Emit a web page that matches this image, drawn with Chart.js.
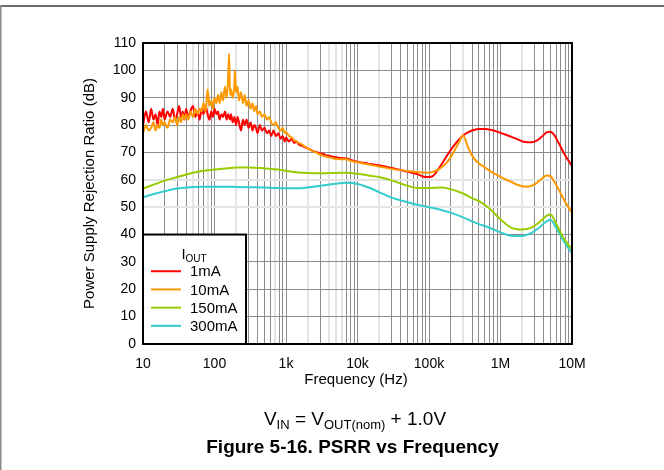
<!DOCTYPE html>
<html>
<head>
<meta charset="utf-8">
<script src="https://cdn.jsdelivr.net/npm/chart.js@4.4.1/dist/chart.umd.min.js"></script>
<style>
    html, body { margin: 0; padding: 0; background: #fff; }
    canvas { display: block; }
</style>
</head>
<body>
<canvas id="chart" width="664" height="470"></canvas>
<script>
// noisy low-frequency part of the 1mA and 10mA traces (Hz)
const lowFreq = [
    10, 11, 12, 13, 14, 15, 16, 17, 18, 19,
    20, 22, 24, 26, 28, 30, 32, 34, 36, 38,
    40, 43, 46, 50, 54, 58, 62, 66, 70, 75,
    80, 85, 90, 95, 100, 106, 112, 118, 125, 132,
    140, 148, 155, 160, 165, 170, 180, 190, 193, 200,
    210, 220, 235, 250, 265, 280, 300, 320, 340, 360,
    380, 400, 430, 460, 500, 540, 580, 620, 670, 720,
    780, 840, 900, 960, 1000, 1100, 1200, 1300, 1400, 1500,
    1650, 1800, 2000, 2200, 2400, 2600, 2800, 3000, 3300, 3600,
    4000, 4400, 4800, 5300, 6000
];
const psrr1mALow = [
    80, 85, 81, 86, 82, 84, 80, 85, 83, 86,
    82, 85, 83, 86, 82, 84, 87, 83, 85, 82,
    86, 83, 85, 87, 83, 85, 82, 86, 84, 87,
    84, 82, 85, 83, 86, 84, 85, 82, 84, 83,
    85, 82, 84, 83, 82, 84, 81, 83, 82, 80,
    83, 81, 78, 82, 80, 82, 79, 81, 78, 80,
    79, 77, 80, 78, 79, 77, 78, 76, 78, 76,
    77, 75, 76, 74, 75.5, 74, 75, 73.5, 74, 73,
    72.5, 72, 71.5, 71, 70.5, 70.2, 70, 69.6, 69.5, 69,
    68.8, 68.5, 68.3, 68.1, 67.9
];
const psrr10mALow = [
    77, 80, 78, 79, 81, 78, 80, 79, 82, 80,
    81, 79, 82, 81, 83, 80, 83, 81, 84, 82,
    84, 82, 85, 83, 86, 84, 86, 85, 88, 85,
    93, 87, 89, 86, 90, 88, 91, 88, 92, 89,
    94, 90, 97, 106, 91, 93, 90, 95, 100, 92,
    94, 89, 92, 88, 91, 87, 89, 86, 88, 85,
    87, 84, 85, 83, 84, 82, 83, 81, 80, 81,
    79, 78, 79, 77, 77.5, 76, 75.5, 74.5, 74, 73.5,
    73, 72.3, 71.5, 71, 70.4, 70, 69.6, 69.2, 68.8, 68.5,
    68.2, 68, 67.7, 67.6, 67.5
];

// smooth high-frequency part of the 1mA and 10mA traces (Hz)
const highFreq = [
    7e3, 8e3, 1e4, 1.2e4, 1.5e4, 2e4, 3e4, 5e4, 7e4, 9e4,
    1.1e5, 1.4e5, 1.8e5, 2.2e5, 2.6e5, 3e5, 3.5e5, 4.2e5, 5e5, 6e5,
    7.5e5, 9e5, 1.1e6, 1.4e6, 1.8e6, 2.2e6, 2.7e6, 3.2e6, 3.8e6, 4.4e6,
    5e6, 5.6e6, 6.5e6, 8e6, 1e7
];
const psrr1mAHigh = [
    67.8, 67.3, 66.6, 66.2, 65.8, 65.3, 64.3, 63, 62, 61,
    61.2, 64.5, 69, 72.3, 74.6, 76.2, 77.3, 78.2, 78.6, 78.6,
    78.2, 77.6, 76.8, 75.8, 74.6, 73.8, 73.7, 74.3, 75.8, 77.3,
    77.6, 76.5, 73.5, 69, 65
];
const psrr10mAHigh = [
    67.5, 67, 66.4, 66, 65.5, 64.9, 64, 63.2, 62.8, 62.6,
    62.8, 64, 66.5, 70, 73.5, 76.2, 72, 68, 66, 64.6,
    62.8, 61.7, 60.5, 59.3, 58, 57.5, 57.8, 58.8, 60.4, 61.6,
    61.4, 59.5, 56.5, 52, 48
];

// 150mA and 300mA traces (Hz)
const loadFreq = [
    10, 15, 20, 30, 50, 70, 100, 150, 200, 300,
    500, 700, 1e3, 1.5e3, 2e3, 3e3, 5e3, 7e3, 1e4, 1.5e4,
    2e4, 3e4, 5e4, 7e4, 1e5, 1.5e5, 2e5, 3e5, 4e5, 5e5,
    7e5, 1e6, 1.4e6, 2e6, 2.7e6, 3.5e6, 4.5e6, 5e6, 6e6, 7.5e6,
    1e7
];
const psrr150mA = [
    56.8, 58.5, 59.7, 61, 62.6, 63.3, 63.8, 64.2, 64.5, 64.5,
    64.2, 63.9, 63.3, 62.7, 62.5, 62.4, 62.5, 62.6, 62.2, 61.5,
    61, 59.8, 57.8, 57, 57, 57.2, 56.6, 55, 53.3, 52.2,
    49.5, 45.5, 42.5, 41.8, 42.5, 44.5, 47, 47.3, 44, 39,
    34.5
];
const psrr300mA = [
    53.6, 55, 55.8, 56.8, 57.4, 57.5, 57.5, 57.5, 57.4, 57.3,
    57.2, 57, 56.9, 56.9, 57.2, 57.8, 58.6, 58.9, 58.5, 57,
    55.5, 53.5, 51.8, 50.8, 50, 49, 48, 46.3, 44.8, 43.8,
    42.5, 40.8, 39.6, 39.5, 40.6, 42.6, 45, 45.3, 42.5, 38,
    33
];

const seriesLabels = ["1mA", "10mA", "150mA", "300mA"];
const seriesColors = ["#ff0000", "#ff9900", "#99cc00", "#33cccc"];

const decadeTicks = [10, 100, 1e3, 1e4, 1e5, 1e6, 1e7];
const decadeLabels = ["10", "100", "1k", "10k", "100k", "1M", "10M"];
const yTicks = [0, 10, 20, 30, 40, 50, 60, 70, 80, 90, 100, 110];

// a few grid lines come out faint in the printed figure
const faintX = [50, 80, 200, 700, 2e3, 4e3, 5e3, 6e3, 2e4, 3e5, 2e6];
const faintY = [50, 60];

const FONT = "'Liberation Sans', Arial, sans-serif";

function toPoints(xs, ys) {
    return xs.map((x, i) => ({ x: x, y: ys[i] }));
}

function isFaint(list, v) {
    return list.some(f => Math.abs(f - v) / f < 1e-6);
}

// every 1..9 step of each decade gets a grid line
function logGridTicks() {
    const ticks = [];
    for (let d = 10; d < 1e7; d *= 10) {
        for (let m = 1; m < 10; m++) {
            ticks.push({ value: d * m });
        }
    }
    ticks.push({ value: 1e7 });
    return ticks;
}

const frame = {
    id: "frame",
    beforeDraw(chart) {
        const ctx = chart.ctx;
        ctx.save();
        ctx.fillStyle = "#fff";
        ctx.fillRect(0, 0, chart.width, chart.height);
        ctx.fillStyle = "#6c6c6c";
        ctx.fillRect(0, 5, chart.width, 2);
        ctx.fillStyle = "#8a8a8a";
        ctx.fillRect(0, 5, 1.5, chart.height - 5);
        ctx.restore();
    },
    afterDraw(chart) {
        const ctx = chart.ctx;
        const a = chart.chartArea;
        ctx.save();

        // legend box in the lower left corner
        const lx = a.left, ly = chart.scales.y.getPixelForValue(40);
        const lw = 103, lh = a.bottom - ly;
        ctx.fillStyle = "#fff";
        ctx.fillRect(lx, ly, lw, lh);
        ctx.strokeStyle = "#000";
        ctx.lineWidth = 2;
        ctx.strokeRect(lx, ly, lw, lh);

        ctx.fillStyle = "#000";
        ctx.textBaseline = "alphabetic";
        ctx.textAlign = "left";
        ctx.font = "15px " + FONT;
        ctx.fillText("I", lx + 38.5, ly + 24.5);
        ctx.font = "10px " + FONT;
        ctx.fillText("OUT", lx + 42.5, ly + 27);

        ctx.font = "15px " + FONT;
        ctx.textBaseline = "middle";
        chart.data.datasets.forEach((ds, i) => {
            const y = ly + 36.7 + i * 18.2;
            ctx.strokeStyle = ds.borderColor;
            ctx.lineWidth = 2;
            ctx.beginPath();
            ctx.moveTo(lx + 8, y);
            ctx.lineTo(lx + 38, y);
            ctx.stroke();
            ctx.fillStyle = "#000";
            ctx.fillText(ds.label, lx + 47, y + 1);
        });

        // plot frame
        ctx.strokeStyle = "#000";
        ctx.lineWidth = 2;
        ctx.strokeRect(a.left, a.top, a.right - a.left, a.bottom - a.top);

        // axis titles
        ctx.fillStyle = "#000";
        ctx.textAlign = "center";
        ctx.textBaseline = "middle";
        ctx.font = "15px " + FONT;
        ctx.fillText("Frequency (Hz)", 356, 380);
        ctx.save();
        ctx.translate(90, (a.top + a.bottom) / 2);
        ctx.rotate(-Math.PI / 2);
        ctx.fillText("Power Supply Rejection Ratio (dB)", 0, 0);
        ctx.restore();

        // test condition with subscripts
        const parts = [
            ["V", 19, 0], ["IN", 13, 4], [" = V", 19, 0],
            ["OUT(nom)", 13, 4], [" + 1.0V", 19, 0]
        ];
        ctx.textAlign = "left";
        ctx.textBaseline = "alphabetic";
        let total = 0;
        parts.forEach(p => {
            ctx.font = p[1] + "px " + FONT;
            total += ctx.measureText(p[0]).width;
        });
        let x = 355 - total / 2;
        parts.forEach(p => {
            ctx.font = p[1] + "px " + FONT;
            ctx.fillText(p[0], x, 425 + p[2]);
            x += ctx.measureText(p[0]).width;
        });

        ctx.textAlign = "center";
        ctx.font = "bold 19px " + FONT;
        ctx.fillText("Figure 5-16. PSRR vs Frequency", 352.5, 453);
        ctx.restore();
    }
};

const datasets = [
    { data: toPoints(lowFreq.concat(highFreq), psrr1mALow.concat(psrr1mAHigh)), order: 1 },
    { data: toPoints(lowFreq.concat(highFreq), psrr10mALow.concat(psrr10mAHigh)), order: 0 },
    { data: toPoints(loadFreq, psrr150mA), order: 2 },
    { data: toPoints(loadFreq, psrr300mA), order: 3 }
].map((ds, i) => Object.assign(ds, {
    label: seriesLabels[i],
    borderColor: seriesColors[i],
    backgroundColor: seriesColors[i],
    borderWidth: 2,
    pointRadius: 0,
    fill: false,
    cubicInterpolationMode: "monotone"
}));

new Chart(document.getElementById("chart"), {
    type: "line",
    data: { datasets: datasets },
    options: {
        responsive: false,
        animation: false,
        devicePixelRatio: 1,
        layout: { padding: { left: 0, right: 92, top: 43, bottom: 0 } },
        plugins: {
            legend: { display: false },
            tooltip: { enabled: false }
        },
        scales: {
            x: {
                type: "logarithmic",
                min: 10,
                max: 1e7,
                afterBuildTicks: (scale) => { scale.ticks = logGridTicks(); },
                afterFit: (scale) => { scale.height = 126; },
                border: { display: false },
                grid: {
                    drawTicks: false,
                    color: (c) => isFaint(faintX, c.tick.value) ? "#e4e4e4" : "#8c8c8c",
                    lineWidth: (c) => isFaint(faintX, c.tick.value) ? 2 : 1
                },
                ticks: {
                    autoSkip: false,
                    maxRotation: 0,
                    padding: 12,
                    color: "#000",
                    font: { family: FONT, size: 14 },
                    callback: (v) => {
                        const i = decadeTicks.indexOf(v);
                        return i >= 0 ? decadeLabels[i] : "";
                    }
                }
            },
            y: {
                min: 0,
                max: 110,
                afterBuildTicks: (scale) => { scale.ticks = yTicks.map(v => ({ value: v })); },
                afterFit: (scale) => { scale.width = 143; },
                border: { display: false },
                grid: {
                    drawTicks: false,
                    color: (c) => faintY.includes(c.tick.value) ? "#e4e4e4" : "#8c8c8c",
                    lineWidth: (c) => faintY.includes(c.tick.value) ? 2 : 1
                },
                ticks: {
                    padding: 7,
                    color: "#000",
                    font: { family: FONT, size: 14 }
                }
            }
        }
    },
    plugins: [frame]
});
</script>
</body>
</html>
